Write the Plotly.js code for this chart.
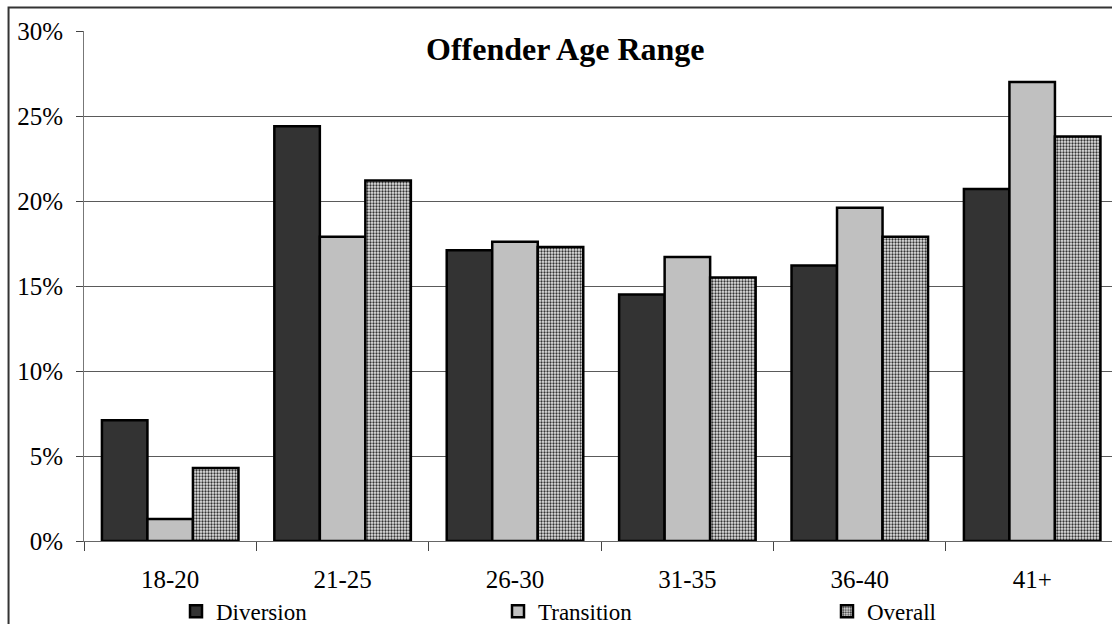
<!DOCTYPE html>
<html>
<head>
<meta charset="utf-8">
<script src="https://cdn.plot.ly/plotly-3.0.1.min.js"></script>
<style>
  html, body { margin: 0; padding: 0; background: #ffffff; }
  #chart { width: 1112px; height: 624px; }
</style>
</head>
<body>
<div id="chart"></div>
<script>
// Age ranges on the category axis
const ageRanges = ['18-20', '21-25', '26-30', '31-35', '36-40', '41+'];

// Share of offenders in each age range, in percent
const diversion  = [7.1, 24.4, 17.1, 14.5, 16.2, 20.7];
const transition = [1.3, 17.9, 17.6, 16.7, 19.6, 27.0];
const overall    = [4.3, 21.2, 17.3, 15.5, 17.9, 23.8];

const yTicks = [0, 5, 10, 15, 20, 25, 30];

const serif = 'Liberation Serif, Times New Roman, serif';
const outline = { color: '#000000', width: 2.5 };

const traces = [
  {
    type: 'bar', name: 'Diversion', x: ageRanges, y: diversion,
    marker: { color: '#333333', line: outline },
    legend: 'legend'
  },
  {
    type: 'bar', name: 'Transition', x: ageRanges, y: transition,
    marker: { color: '#c0c0c0', line: outline },
    legend: 'legend2'
  },
  {
    type: 'bar', name: 'Overall', x: ageRanges, y: overall,
    marker: {
      color: '#e6e6e6', line: outline,
      pattern: { shape: '.', fgcolor: '#333333', bgcolor: '#e6e6e6', size: 3, solidity: 0.45 }
    },
    legend: 'legend3'
  }
];

// one legend per series, laid out along the bottom edge
function legendAt(px) {
  return {
    orientation: 'h',
    x: (px - 84) / 1028, xanchor: 'left',
    y: -0.138, yanchor: 'middle',
    font: { family: serif, size: 23, color: '#000000' },
    bgcolor: 'rgba(0,0,0,0)',
    borderwidth: 0
  };
}

const layout = {
  width: 1112,
  height: 624,
  margin: { l: 84, r: 0, t: 31, b: 83, pad: 0, autoexpand: false },
  paper_bgcolor: '#ffffff',
  plot_bgcolor: '#ffffff',
  font: { family: serif, size: 25, color: '#000000' },
  barmode: 'group',
  bargap: 0.208,
  bargroupgap: 0,
  showlegend: true,
  legend: legendAt(176),
  legend2: legendAt(498),
  legend3: legendAt(827),
  xaxis: {
    type: 'category',
    range: [-0.5, 5.463],
    showline: true, linecolor: '#666666', linewidth: 1,
    ticks: 'outside', tickson: 'boundaries', ticklen: 9, tickcolor: '#444444', tickwidth: 1,
    ticklabelstandoff: 16,
    showgrid: false,
    tickfont: { family: serif, size: 25, color: '#000000' },
    fixedrange: true
  },
  yaxis: {
    range: [0, 30],
    tickvals: yTicks,
    ticktext: yTicks.map(v => v + '%'),
    showline: true, linecolor: '#777777', linewidth: 1,
    ticks: 'outside', ticklen: 7, tickcolor: '#444444', tickwidth: 1,
    ticklabelstandoff: 8,
    showgrid: true, gridcolor: '#5a5a5a', gridwidth: 1,
    zeroline: false,
    tickfont: { family: serif, size: 25, color: '#000000' },
    fixedrange: true
  },
  annotations: [
    {
      xref: 'paper', yref: 'paper',
      x: 0.468, y: 0.965, xanchor: 'center', yanchor: 'middle',
      text: '<b>Offender Age Range</b>',
      showarrow: false,
      font: { family: serif, size: 32, color: '#000000' },
      bgcolor: '#ffffff',
      borderpad: 4
    }
  ],
  shapes: [
    {
      type: 'path', xref: 'paper', yref: 'paper',
      path: 'M -0.0734,-0.3 L -0.0734,1.046 L 1.05,1.046',
      line: { color: '#333333', width: 2 },
      layer: 'above'
    }
  ]
};

Plotly.newPlot('chart', traces, layout, { displayModeBar: false, staticPlot: true });
</script>
</body>
</html>
